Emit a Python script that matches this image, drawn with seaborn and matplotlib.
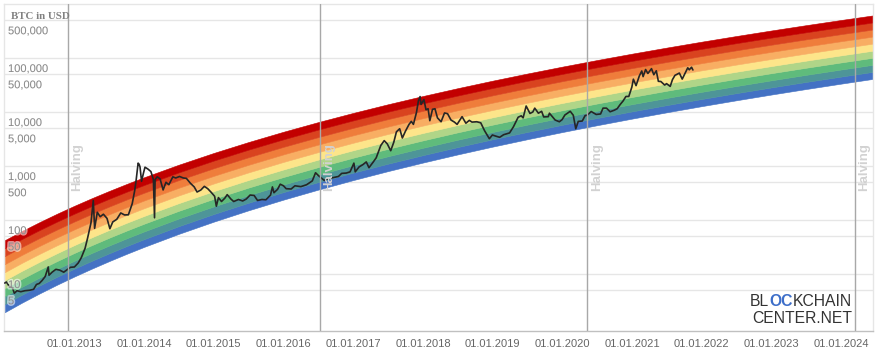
import numpy as np
import pandas as pd
import matplotlib
matplotlib.use("Agg")
import matplotlib.pyplot as plt
import matplotlib.transforms as mtrans
import matplotlib.patheffects as pe
from matplotlib.ticker import NullLocator
import seaborn as sns

# ---------------- data ----------------
band_dates = ["2012-01-01", "2012-04-01", "2012-07-01", "2012-10-01", "2013-01-01", "2013-04-01",
              "2013-07-01", "2013-10-01", "2014-01-01", "2014-07-01", "2015-01-01", "2015-07-01",
              "2016-01-01", "2016-07-01", "2017-01-01", "2017-07-01", "2018-01-01", "2018-07-01",
              "2019-01-01", "2019-07-01", "2020-01-01", "2020-07-01", "2021-01-01", "2021-07-01",
              "2022-01-01", "2022-07-01", "2023-01-01", "2023-07-01", "2024-01-01", "2024-06-17"]
band_upper = [42.3, 62.8, 91.2, 130.7, 184.1, 253.2, 344.8, 465.1, 619.6, 1056, 1747, 2773, 4310,
              6501, 9627, 13890, 19780, 27560, 38020, 51450, 69150, 91530, 120300, 155700, 200600,
              255100, 323200, 404900, 505400, 615100]
band_lower = [1.96, 2.96, 4.36, 6.33, 9.03, 12.57, 17.32, 23.63, 31.83, 55.36, 93.3, 150.8, 238.4,
              365.1, 548.9, 802.8, 1158, 1635, 2283, 3125, 4247, 5683, 7543, 9858, 12830, 16460,
              21050, 26590, 33470, 41050]
band_colors = ["#4472c4", "#4e9598", "#5fbb7c", "#b0d588", "#fde58a", "#f8ae63", "#ef7d3b",
               "#d9431f", "#c20000"]  # bottom -> top

price_dates = [
    "2012-01-01", "2012-01-10", "2012-01-25", "2012-02-10", "2012-02-20", "2012-03-05", "2012-03-25",
    "2012-04-15", "2012-05-10", "2012-05-31", "2012-06-15", "2012-06-30", "2012-07-15", "2012-07-31",
    "2012-08-16", "2012-08-20", "2012-09-05", "2012-09-25", "2012-10-15", "2012-11-05", "2012-11-20",
    "2012-12-10", "2012-12-31", "2013-01-20", "2013-02-05", "2013-02-25", "2013-03-10", "2013-03-28",
    "2013-04-09", "2013-04-16", "2013-04-30", "2013-05-15", "2013-06-01", "2013-06-20", "2013-07-05",
    "2013-07-20", "2013-08-10", "2013-08-31", "2013-09-20", "2013-10-10", "2013-10-30", "2013-11-12",
    "2013-11-20", "2013-11-30", "2013-12-05", "2013-12-10", "2013-12-18", "2013-12-28", "2014-01-05",
    "2014-01-20", "2014-02-05", "2014-02-18", "2014-02-24", "2014-02-27", "2014-03-10", "2014-03-25",
    "2014-04-10", "2014-04-25", "2014-05-10", "2014-05-31", "2014-06-15", "2014-07-05", "2014-07-25",
    "2014-08-10", "2014-08-31", "2014-09-20", "2014-10-05", "2014-10-25", "2014-11-12", "2014-11-30",
    "2014-12-20", "2015-01-05", "2015-01-14", "2015-01-25", "2015-02-10", "2015-02-28", "2015-03-12",
    "2015-03-31", "2015-04-15", "2015-05-10", "2015-06-01", "2015-06-20", "2015-07-10", "2015-07-31",
    "2015-08-18", "2015-09-10", "2015-10-01", "2015-10-25", "2015-11-04", "2015-11-12", "2015-12-01",
    "2015-12-15", "2016-01-01", "2016-01-15", "2016-02-10", "2016-03-01", "2016-04-01", "2016-05-01",
    "2016-05-31", "2016-06-17", "2016-07-01", "2016-08-02", "2016-08-20", "2016-09-15", "2016-10-15",
    "2016-11-01", "2016-11-25", "2016-12-15", "2017-01-04", "2017-01-11", "2017-01-31", "2017-02-20",
    "2017-03-10", "2017-03-24", "2017-04-15", "2017-05-01", "2017-05-25", "2017-06-12", "2017-06-28",
    "2017-07-16", "2017-08-01", "2017-08-15", "2017-09-01", "2017-09-15", "2017-10-01", "2017-10-20",
    "2017-11-01", "2017-11-12", "2017-11-28", "2017-12-08", "2017-12-17", "2017-12-22", "2018-01-06",
    "2018-01-17", "2018-01-28", "2018-02-06", "2018-02-20", "2018-03-05", "2018-03-18", "2018-04-06",
    "2018-04-24", "2018-05-10", "2018-05-28", "2018-06-15", "2018-06-29", "2018-07-25", "2018-08-14",
    "2018-09-01", "2018-09-15", "2018-10-10", "2018-10-31", "2018-11-20", "2018-12-15", "2018-12-31",
    "2019-01-15", "2019-02-07", "2019-02-28", "2019-03-31", "2019-04-20", "2019-05-15", "2019-05-31",
    "2019-06-10", "2019-06-26", "2019-07-16", "2019-07-31", "2019-08-10", "2019-08-29", "2019-09-15",
    "2019-09-26", "2019-10-20", "2019-10-26", "2019-11-25", "2019-12-17", "2019-12-31", "2020-01-15",
    "2020-02-12", "2020-02-28", "2020-03-12", "2020-03-25", "2020-04-15", "2020-04-30", "2020-05-10",
    "2020-06-01", "2020-06-27", "2020-07-20", "2020-08-02", "2020-08-20", "2020-09-08", "2020-09-30",
    "2020-10-15", "2020-10-31", "2020-11-15", "2020-11-30", "2020-12-15", "2020-12-31", "2021-01-08",
    "2021-01-22", "2021-02-08", "2021-02-21", "2021-02-28", "2021-03-13", "2021-03-25", "2021-04-13",
    "2021-04-25", "2021-05-08", "2021-05-19", "2021-06-01", "2021-06-21", "2021-07-01", "2021-07-20",
    "2021-08-01", "2021-08-14", "2021-09-06", "2021-09-21", "2021-10-01", "2021-10-20", "2021-10-28",
    "2021-11-09", "2021-11-16"]
price_values = [
    6.8, 7.1, 5.9, 5.6, 4.4, 4.9, 4.7,
    4.9, 5.0, 5.2, 6.4, 6.7, 7.6, 9.0,
    13.5, 9.5, 10.8, 12.2, 11.8, 10.8, 11.8,
    13.3, 13.5, 16, 20, 30, 46, 89,
    230, 70, 139, 115, 128, 107, 69,
    92, 103, 135, 124, 125, 200, 350,
    560, 1130, 1080, 960, 520, 740, 950,
    880, 790, 560, 110, 560, 630, 580,
    360, 500, 450, 630, 600, 640, 600,
    590, 480, 410, 330, 360, 420, 380,
    320, 275, 180, 260, 220, 255, 295,
    245, 220, 240, 225, 245, 290, 285,
    230, 240, 237, 290, 410, 320, 370,
    460, 430, 380, 375, 430, 415, 450,
    530, 750, 670, 540, 580, 608, 640,
    730, 740, 780, 1130, 780, 960, 1060,
    1190, 930, 1180, 1420, 2400, 2950, 2570,
    1920, 2750, 4300, 4900, 3300, 4400, 5900,
    6700, 5900, 9800, 16000, 19300, 13800, 17000,
    11000, 11500, 6900, 11200, 11500, 7800, 6600,
    9600, 9300, 7100, 6500, 5900, 8200, 6200,
    7000, 6500, 6600, 6300, 4500, 3200, 3750,
    3600, 3400, 3800, 4100, 5300, 8000, 8500,
    7800, 12900, 9400, 10000, 11800, 9500, 10300,
    8100, 8200, 9500, 7100, 6600, 7200, 8800,
    10300, 8700, 4900, 6700, 6800, 8600, 8700,
    10200, 9000, 9200, 11800, 11800, 10100, 10800,
    11500, 13800, 16000, 19400, 19400, 29000, 40500,
    30800, 46400, 57500, 45200, 61200, 51700, 63500,
    49000, 58000, 37000, 36700, 31600, 33500, 29800,
    39900, 47800, 52600, 40700, 48200, 65900, 60500,
    67500, 60000]

halving_dates = ["2012-11-28", "2016-07-09", "2020-05-11", "2024-03-15"]
halving_label = "Halving"

ytick_values = [500000, 100000, 50000, 10000, 5000, 1000, 500, 100, 50, 10, 5]
ytick_labels = ["500,000", "100,000", "50,000", "10,000", "5,000", "1,000", "500", "100", "50", "10", "5"]
xtick_dates = ["2013-01-01", "2014-01-01", "2015-01-01", "2016-01-01", "2017-01-01", "2018-01-01",
               "2019-01-01", "2020-01-01", "2021-01-01", "2022-01-01", "2023-01-01", "2024-01-01"]
xtick_labels = ["01.01.2013", "01.01.2014", "01.01.2015", "01.01.2016", "01.01.2017", "01.01.2018",
                "01.01.2019", "01.01.2020", "01.01.2021", "01.01.2022", "01.01.2023", "01.01.2024"]
axis_title = "BTC in USD"
logo_line1 = ["BL", "OC", "KCHAIN"]
logo_line2 = "CENTER.NET"

# ---------------- plot ----------------
sns.set_style("white")
plt.rcParams["font.family"] = ["Liberation Sans", "DejaVu Sans"]

fig = plt.figure(figsize=(8.81, 3.62), dpi=100)
ax = fig.add_axes([4 / 881, (362 - 330.5) / 362, (873 - 4) / 881, (330.5 - 4) / 362])

bd = pd.to_datetime(band_dates)
lo_log = np.log10(np.array(band_lower))
hi_log = np.log10(np.array(band_upper))
n = len(band_colors)
for k, c in enumerate(band_colors):
    lo = 10 ** (lo_log + (hi_log - lo_log) * k / n)
    hi = 10 ** (lo_log + (hi_log - lo_log) * (k + 1) / n)
    ax.fill_between(bd, lo, hi, color=c, lw=0.4, edgecolor=c, zorder=2)

price_df = pd.DataFrame({"date": pd.to_datetime(price_dates), "price": price_values})
sns.lineplot(data=price_df, x="date", y="price", ax=ax, color="#262626", lw=1.2, zorder=4)

ax.set_yscale("log")
ax.set_ylim(10 ** (-2.5 / 54), 1e6)
ax.set_xlim(pd.Timestamp("2011-12-28"), pd.Timestamp("2024-06-17"))

ax.set_yticks(ytick_values)
ax.yaxis.set_minor_locator(NullLocator())
ax.tick_params(axis="y", labelleft=False, length=0)
ax.grid(axis="y", color="#e6e6e6", lw=1, zorder=0)
ax.grid(axis="x", visible=False)
ax.set_axisbelow(True)

ax.set_xticks(pd.to_datetime(xtick_dates))
ax.set_xticklabels(xtick_labels)
ax.tick_params(axis="x", length=0, pad=6, labelsize=8, labelcolor="#666666")
ax.set_xlabel("")
ax.set_ylabel("")

for s in ["left", "right", "top"]:
    ax.spines[s].set_color("#e6e6e6")
    ax.spines[s].set_linewidth(1)
ax.spines["bottom"].set_color("#c0c0c0")
ax.spines["bottom"].set_linewidth(1)

# y labels below gridlines
ytrans = mtrans.blended_transform_factory(ax.transAxes, ax.transData)
off = mtrans.ScaledTranslation(4 / 100, -11 / 100, fig.dpi_scale_trans)
for v, lab in zip(ytick_values, ytick_labels):
    ax.text(0, v, lab, transform=ytrans + off, ha="left", va="center", fontsize=8,
            color="#8a8a8a", zorder=6,
            path_effects=[pe.withStroke(linewidth=2.2, foreground="white", alpha=0.55)])

# halving lines and labels
hoff = mtrans.ScaledTranslation(9.5 / 100, 0, fig.dpi_scale_trans)
for d in halving_dates:
    dt = pd.Timestamp(d)
    ax.axvline(dt, color="#a8a8a8", lw=1, zorder=5)
    ax.text(dt, 958, halving_label, transform=ax.transData + hoff, rotation=90, ha="center",
            va="center", fontsize=9.5, fontweight="bold", color="#d2d2d2", zorder=6)

fig.text(11 / 881, (362 - 16.5) / 362, axis_title, family="Liberation Serif", fontweight="bold",
         fontsize=7.8, color="#808080", ha="left", va="center")

# logo (right aligned, first line drawn in three pieces)
fig.canvas.draw()
renderer = fig.canvas.get_renderer()
x_right = 852
y1 = 362 - 301.5
colors1 = ["#333333", "#3d6ec9", "#333333"]
for piece, col in zip(reversed(logo_line1), reversed(colors1)):
    t = fig.text(x_right / 881, y1 / 362, piece, ha="right", va="center", fontsize=11.3,
                 color=col, fontweight="bold" if col != "#333333" else "normal")
    bb = t.get_window_extent(renderer=renderer)
    x_right = bb.x0
fig.text(852 / 881, (362 - 318.5) / 362, logo_line2, ha="right", va="center", fontsize=11.3,
         color="#333333")

fig.savefig("out.png", dpi=100)
